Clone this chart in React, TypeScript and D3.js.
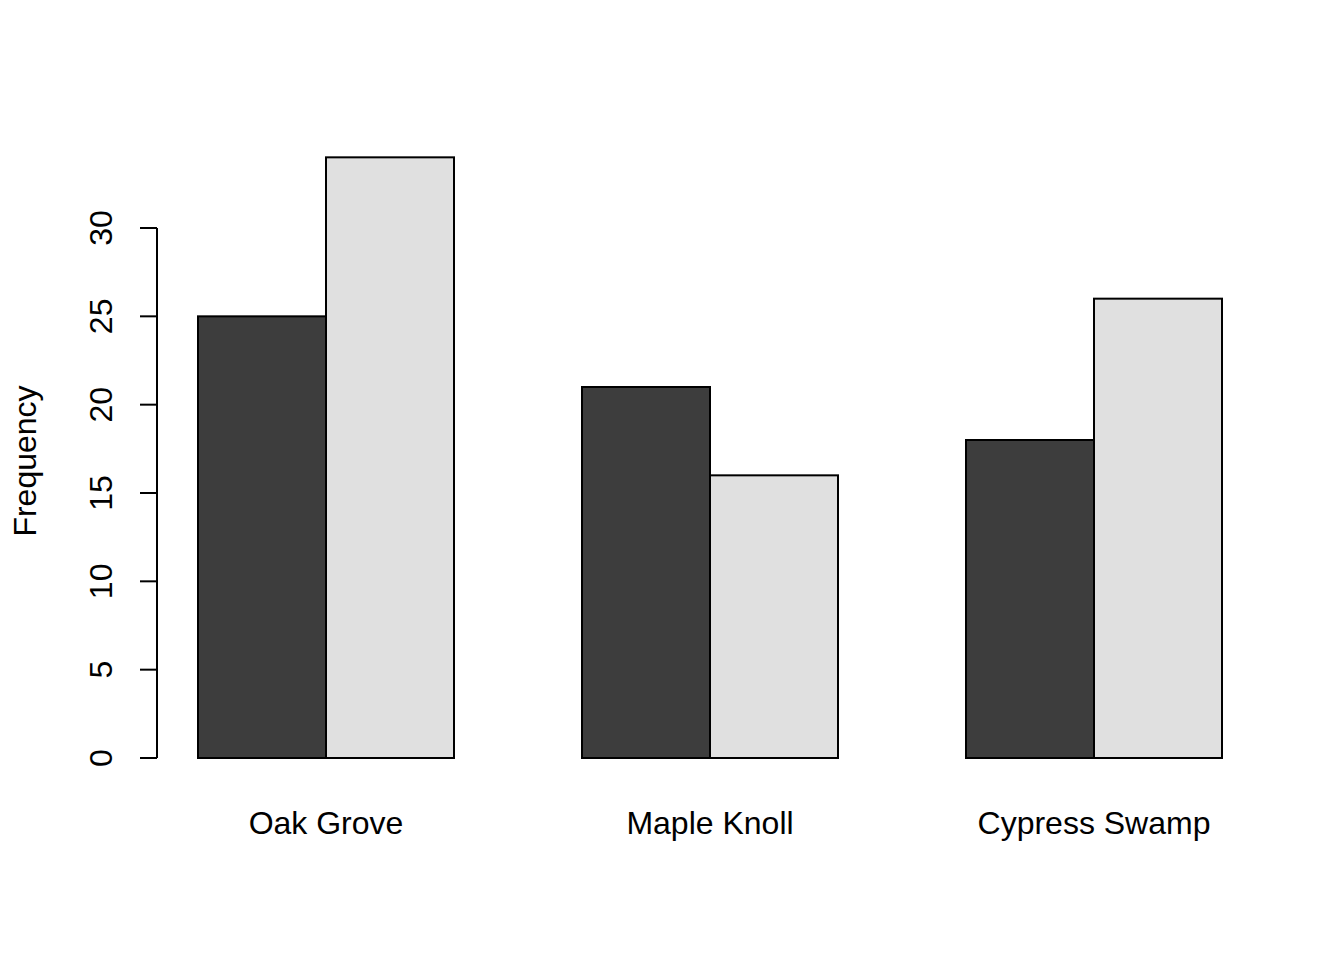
import React from 'react';
import * as d3 from 'd3';

const sites = ['Oak Grove', 'Maple Knoll', 'Cypress Swamp'];
const seriesKeys = ['first', 'second'];
const firstValues = [25, 21, 18];
const secondValues = [34, 16, 26];
const yTicks = [0, 5, 10, 15, 20, 25, 30];
const fills = ['#3d3d3d', '#e0e0e0'];

const width = 1344;
const height = 960;
const font = "'Liberation Sans', Arial, Helvetica, sans-serif";

function App() {
  const y = d3.scaleLinear().domain([0, 30]).range([758, 228]);
  // groups separated by one bar width, as in barplot(beside = TRUE)
  const x = d3.scaleBand().domain(sites).range([198, 1222]).paddingInner(1 / 3).paddingOuter(0);
  const xInner = d3.scaleBand().domain(seriesKeys).range([0, x.bandwidth()]);
  const values = [firstValues, secondValues];

  return (
    <div style={{ position: 'absolute', left: 0, top: 0 }}>
      <svg width={width} height={height} style={{ display: 'block', background: '#fff' }}>
        {sites.map((s, i) => (
          <g key={s} transform={`translate(${x(s)},0)`}>
            {seriesKeys.map((k, j) => (
              <rect
                key={k}
                x={xInner(k)}
                y={y(values[j][i])}
                width={xInner.bandwidth()}
                height={y(0) - y(values[j][i])}
                fill={fills[j]}
                stroke="#000"
                strokeWidth={2}
              />
            ))}
            <text
              x={x.bandwidth() / 2}
              y={834}
              textAnchor="middle"
              fontFamily={font}
              fontSize={32}
            >
              {s}
            </text>
          </g>
        ))}

        {/* y axis */}
        <line x1={157} x2={157} y1={y(0)} y2={y(30)} stroke="#000" strokeWidth={2} />
        {yTicks.map((t) => (
          <g key={t}>
            <line x1={140} x2={157} y1={y(t)} y2={y(t)} stroke="#000" strokeWidth={2} />
            <text
              transform={`translate(112,${y(t)}) rotate(-90)`}
              textAnchor="middle"
              fontFamily={font}
              fontSize={32}
            >
              {t}
            </text>
          </g>
        ))}

        <text
          transform={`translate(36,${y(15) - 32}) rotate(-90)`}
          textAnchor="middle"
          fontFamily={font}
          fontSize={32}
        >
          Frequency
        </text>
      </svg>
    </div>
  );
}

export default App;
